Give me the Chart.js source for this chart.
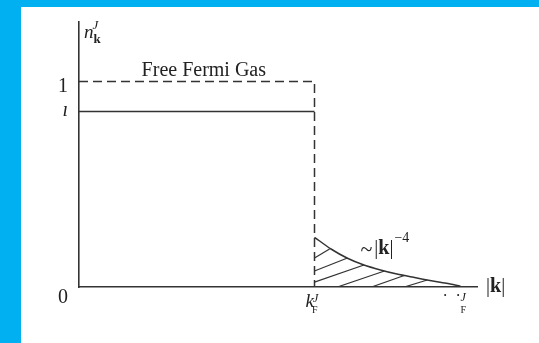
<!DOCTYPE html>
<html>
<head>
<meta charset="utf-8">
<script src="https://cdn.jsdelivr.net/npm/chart.js@4"></script>
<style>
  html, body { margin: 0; padding: 0; background: #fff; }
  body { width: 539px; height: 343px; position: relative; overflow: hidden; }
  .bar-top { position: absolute; left: 0; top: 0; width: 539px; height: 7px; background: #00b0f0; }
  .bar-left { position: absolute; left: 0; top: 0; width: 21px; height: 343px; background: #00b0f0; }
  #chart { position: absolute; left: 0; top: 0; }
</style>
</head>
<body>
<div class="bar-top"></div>
<div class="bar-left"></div>
<canvas id="chart" width="539" height="343"></canvas>
<script>
// momentum in units of k_F, occupation n_k
const kF = 1;
const kEnd = 1.62;
const Z = 0.854;

// free Fermi gas step (dashed)
const freeX = [0, kF, kF];
const freeY = [1, 1, 0];

// interacting gas: flat part below k_F
const flatX = [0, kF];
const flatY = [Z, Z];

// ~|k|^-4 tail above k_F
const tailX = [1.00, 1.07, 1.14, 1.21, 1.28, 1.35, 1.42, 1.49, 1.56, 1.62];
const tailY = [0.242, 0.185, 0.140, 0.107, 0.083, 0.063, 0.047, 0.032, 0.018, 0.004];

// hatching under the tail: start and end of each stroke
const hatchX0 = [1.000, 1.000, 1.000, 1.097, 1.242, 1.381];
const hatchY0 = [0.141, 0.078, 0.024, 0, 0, 0];
const hatchX1 = [1.064, 1.140, 1.210, 1.297, 1.381, 1.479];
const hatchY1 = [0.185, 0.141, 0.107, 0.078, 0.056, 0.034];

const yTickVals = [1, Z, 0];
const yTickText = ['1', 'ı', '0'];

const ink = '#333';
const serif = '"Liberation Serif", "DejaVu Serif", serif';

function pts(xs, ys) {
    return xs.map((x, i) => ({ x: x, y: ys[i] }));
}

const datasets = [
    { data: pts(freeX, freeY), borderColor: ink, borderWidth: 1.5, borderDash: [9, 5] },
    { data: pts(flatX, flatY), borderColor: ink, borderWidth: 1.5 },
    { data: pts(tailX, tailY), borderColor: ink, borderWidth: 1.5, tension: 0.3 }
];
hatchX0.forEach((x0, i) => {
    datasets.push({
        data: [{ x: x0, y: hatchY0[i] }, { x: hatchX1[i], y: hatchY1[i] }],
        borderColor: ink, borderWidth: 1.2
    });
});
datasets.forEach(d => { d.showLine = true; d.pointRadius = 0; d.fill = false; });

// labels with sub/superscripts drawn by hand
function txt(ctx, s, x, y, size, style, align) {
    ctx.font = (style || '') + ' ' + size + 'px ' + serif;
    ctx.textAlign = align || 'left';
    ctx.fillText(s, x, y);
    return ctx.measureText(s).width;
}

const labelPlugin = {
    id: 'labels',
    afterDraw(chart) {
        const ctx = chart.ctx;
        const xs = chart.scales.x, ys = chart.scales.y;
        const left = chart.chartArea.left;
        ctx.save();
        ctx.fillStyle = '#222';
        ctx.textBaseline = 'alphabetic';

        // y axis ticks
        const yOff = [10, 4, 16];
        yTickVals.forEach((v, i) => {
            txt(ctx, yTickText[i], left - 11, ys.getPixelForValue(v) + yOff[i], 20, i === 1 ? 'italic' : '', 'right');
        });

        // axis title n_k^J
        let x = left + 5;
        x += txt(ctx, 'n', x, 38, 19, 'italic');
        txt(ctx, 'J', x - 1, 29, 13, 'italic');
        txt(ctx, 'k', x, 43, 13, 'bold');

        txt(ctx, 'Free Fermi Gas', xs.getPixelForValue(0.53), ys.getPixelForValue(1) - 6, 20, '', 'center');

        // tail label ~|k|^-4
        x = xs.getPixelForValue(1.195);
        const by = ys.getPixelForValue(0.16);
        x += txt(ctx, '~', x, by + 2, 22, '');
        x += 2;
        x += txt(ctx, '|', x, by, 20, '');
        x += txt(ctx, 'k', x, by, 20, 'bold');
        x += txt(ctx, '|', x, by, 20, '');
        txt(ctx, '\u22124', x + 1, by - 12, 14, '');

        // x axis title |k|
        x = chart.chartArea.right + 9;
        x += txt(ctx, '|', x, 292, 20, '');
        x += txt(ctx, 'k', x, 292, 20, 'bold');
        txt(ctx, '|', x, 292, 20, '');

        // k_F^J tick
        x = xs.getPixelForValue(kF) - 9;
        x += txt(ctx, 'k', x, 307, 19, 'italic');
        txt(ctx, 'J', x - 1, 302, 12, 'italic');
        txt(ctx, 'F', x - 2, 313, 10, '');

        // second tick at the end of the tail
        x = xs.getPixelForValue(kEnd) - 18;
        txt(ctx, '\u00b7', x, 301, 16, '');
        txt(ctx, '\u00b7', x + 13, 301, 16, '');
        txt(ctx, 'J', x + 18, 301, 12, 'italic');
        txt(ctx, 'F', x + 18, 313, 10, '');

        ctx.restore();
    }
};

new Chart(document.getElementById('chart'), {
    type: 'scatter',
    data: { datasets: datasets },
    options: {
        responsive: false,
        animation: false,
        layout: { padding: { left: 79, top: 22, right: 62, bottom: 56 } },
        plugins: { legend: { display: false }, tooltip: { enabled: false } },
        scales: {
            x: {
                type: 'linear', min: 0, max: 1.69,
                grid: { display: false, drawTicks: false },
                ticks: { display: false },
                border: { display: true, color: ink, width: 1.6 }
            },
            y: {
                type: 'linear', min: 0, max: 1.29,
                grid: { display: false, drawTicks: false },
                ticks: { display: false },
                border: { display: true, color: ink, width: 1.6 }
            }
        }
    },
    plugins: [labelPlugin]
});
</script>
</body>
</html>
